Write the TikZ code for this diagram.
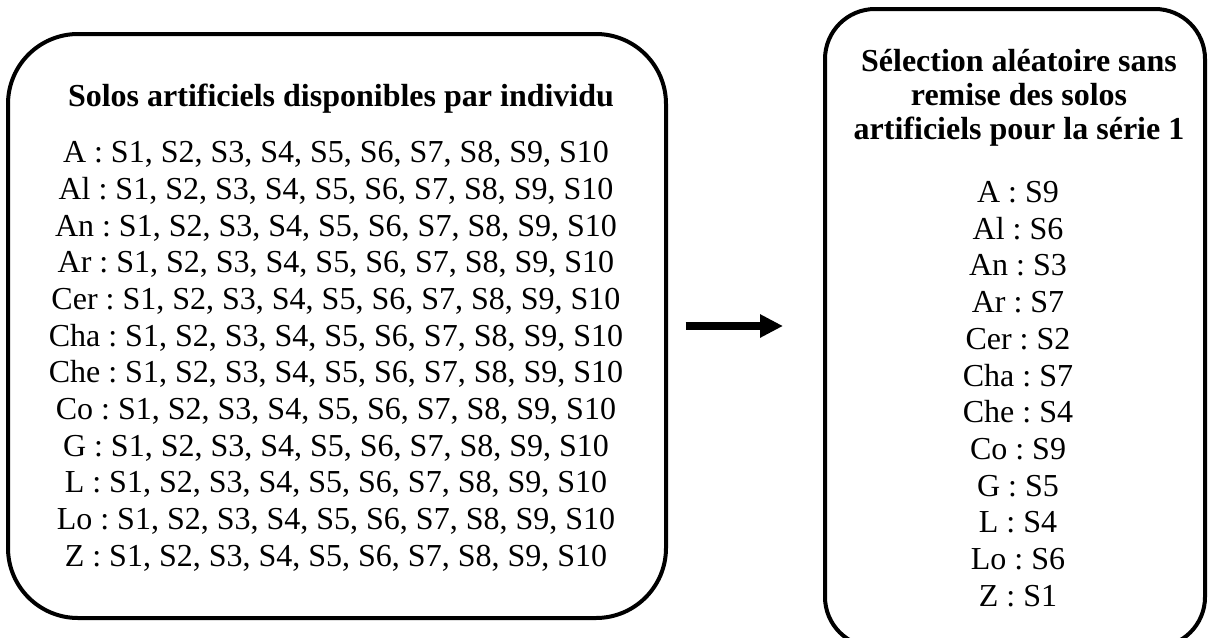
\documentclass[tikz,border=0pt]{standalone}
\usepackage{fontspec}
\setmainfont{Liberation Serif}
\frenchspacing
\usetikzlibrary{arrows.meta, positioning}

\begin{document}
\begin{tikzpicture}[
        x=0.5pt, y=-0.5pt,
        panel/.style={draw=black, line width=2pt, rounded corners=#1},
        heading/.style={font=\fontsize{16}{17}\selectfont\bfseries, align=center, inner sep=0pt},
        entries/.style={font=\fontsize{16}{18.35}\selectfont, align=center, inner sep=0pt},
        flow/.style={-{Triangle[length=11.5pt, width=11pt]}, line width=3.75pt}
    ]
        \clip (0,0) rectangle (1209,637);

        % Boxes
        \node[panel=35pt, minimum width=329pt, minimum height=292pt] (pool) at (337,326) {};
        \node[panel=25pt, minimum width=190pt, minimum height=319pt] (draw) at (1015,328) {};

        % Titles
        \node[heading, anchor=base] (pooltitle) at (341,106) {Solos artificiels disponibles par individu};
        \node[heading, anchor=north] (drawtitle) at (1019,49) {Sélection aléatoire sans\\remise des solos\\artificiels pour la série 1};

        % Lists
        \node[entries, anchor=north] (poollist) at (336,141) {%
            A : S1, S2, S3, S4, S5, S6, S7, S8, S9, S10\\
            Al : S1, S2, S3, S4, S5, S6, S7, S8, S9, S10\\
            An : S1, S2, S3, S4, S5, S6, S7, S8, S9, S10\\
            Ar : S1, S2, S3, S4, S5, S6, S7, S8, S9, S10\\
            Cer : S1, S2, S3, S4, S5, S6, S7, S8, S9, S10\\
            Cha : S1, S2, S3, S4, S5, S6, S7, S8, S9, S10\\
            Che : S1, S2, S3, S4, S5, S6, S7, S8, S9, S10\\
            Co : S1, S2, S3, S4, S5, S6, S7, S8, S9, S10\\
            G : S1, S2, S3, S4, S5, S6, S7, S8, S9, S10\\
            L : S1, S2, S3, S4, S5, S6, S7, S8, S9, S10\\
            Lo : S1, S2, S3, S4, S5, S6, S7, S8, S9, S10\\
            Z : S1, S2, S3, S4, S5, S6, S7, S8, S9, S10};
        \node[entries, anchor=north] (drawlist) at (1018,181) {%
            A : S9\\ Al : S6\\ An : S3\\ Ar : S7\\ Cer : S2\\ Cha : S7\\
            Che : S4\\ Co : S9\\ G : S5\\ L : S4\\ Lo : S6\\ Z : S1};

        % Arrow
        \draw[flow, shorten <=8.75pt, shorten >=20pt] (pool.east) -- (pool.east -| draw.west);
    \end{tikzpicture}
\end{document}
